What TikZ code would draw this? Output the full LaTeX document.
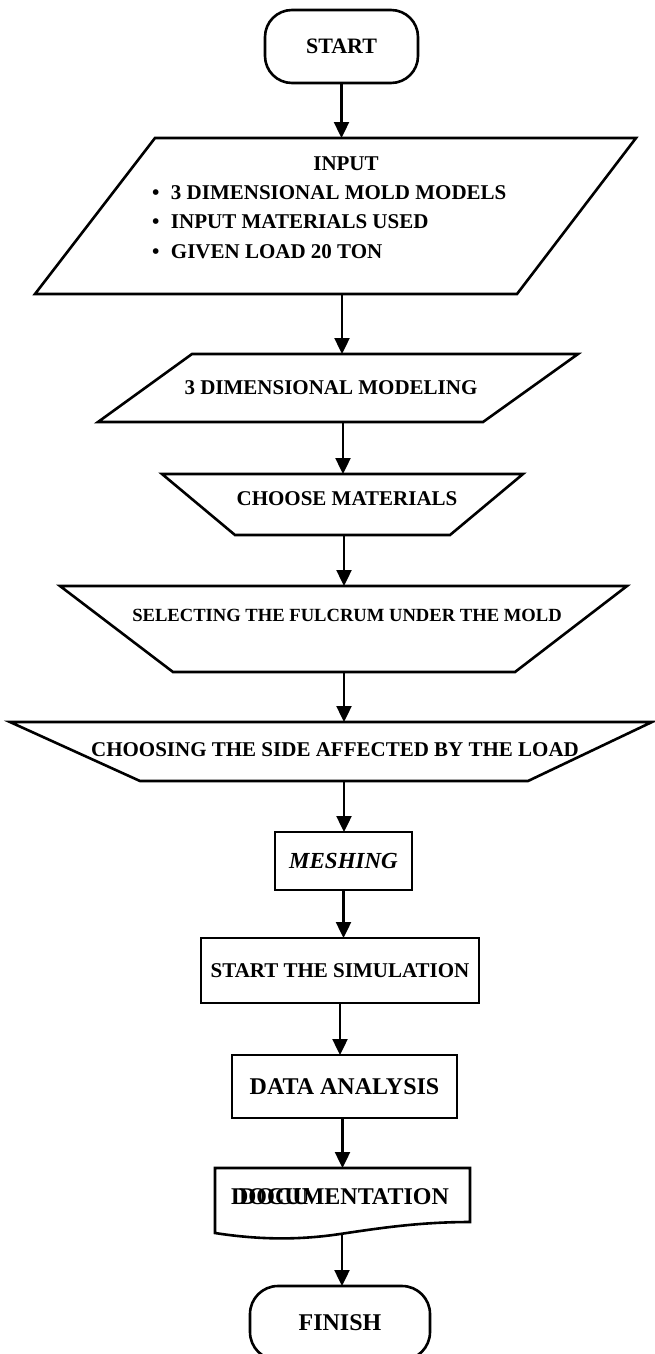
\documentclass[tikz,border=0pt]{standalone}
\usepackage{fontspec}
\setmainfont{Liberation Serif}
\usetikzlibrary{arrows.meta,calc}
\begin{document}
\begin{tikzpicture}[x=1pt,y=-1pt,
  shp/.style={line width=2.6pt, line join=miter},
  arr/.style={line width=2.4pt,-{Triangle[length=16pt,width=15pt]}},
  frm/.style={inner sep=0pt, outer sep=0pt, minimum width=10pt},
  lbl/.style={inner sep=0pt, outer sep=0pt, font=\fontsize{#1}{#1}\selectfont\bfseries},
  lbl/.default=21,
  boxnode/.style={draw, line width=2.6pt, inner sep=0pt, outer sep=0pt},
]
\useasboundingbox (0,0) rectangle (654,1354);

% START
\node[boxnode, lbl=22, rounded corners=27pt, minimum width=153pt, minimum height=73pt] (start) at (341.5,46.5) {START};

% INPUT
\node[frm, minimum height=156pt] (input) at (342,216) {};
\draw[shp] (155,138) -- (636,138) -- (517,294) -- (35,294) -- cycle;
\node[lbl] (tin0) at (346,164) {INPUT};
\node[lbl, anchor=west] (tin1) at (152,193) {\makebox[19pt][l]{\textbullet}3 DIMENSIONAL MOLD MODELS};
\node[lbl, anchor=west] (tin2) at (152,222) {\makebox[19pt][l]{\textbullet}INPUT MATERIALS USED};
\node[lbl, anchor=west] (tin3) at (152,252) {\makebox[19pt][l]{\textbullet}GIVEN LOAD 20 TON};

% 3D modeling
\node[frm, minimum height=68pt] (dm) at (343,388) {};
\draw[shp] (192,354) -- (578,354) -- (483,422) -- (98,422) -- cycle;
\node[lbl] (tdm) at (331,388) {3 DIMENSIONAL MODELING};

% choose materials
\node[frm, minimum height=61pt] (cm) at (344,504.5) {};
\draw[shp] (162,474) -- (523,474) -- (450,535) -- (235,535) -- cycle;
\node[lbl] (tcm) at (347,499) {CHOOSE MATERIALS};

% selecting fulcrum
\node[frm, minimum height=86pt] (sf) at (344,629) {};
\draw[shp] (60,586) -- (627,586) -- (515,672) -- (173,672) -- cycle;
\node[lbl=18.6] (tsf) at (347,615) {SELECTING THE FULCRUM UNDER THE MOLD};

% choosing side
\node[frm, minimum height=59pt] (cs) at (344,751.5) {};
\draw[shp] (10,722) -- (652,722) -- (528,781) -- (140,781) -- cycle;
\node[lbl] (tcs) at (335,750) {CHOOSING THE SIDE AFFECTED BY THE LOAD};

% meshing
\node[boxnode, minimum width=137pt, minimum height=58pt, font=\fontsize{23}{23}\selectfont\bfseries\itshape] (mesh) at (343.5,861) {MESHING};

% simulation
\node[boxnode, lbl=21, minimum width=278pt, minimum height=65pt] (sim) at (340,970.5) {START THE SIMULATION};

% data analysis
\node[boxnode, lbl=24, minimum width=225pt, minimum height=63pt] (data) at (344.5,1086.5) {\raisebox{-3pt}{DATA ANALYSIS}};

% documentation
\node[frm, minimum height=64pt] (doc) at (342,1200) {};
\draw[shp] (215,1233) -- (215,1168) -- (470,1168) -- (470,1222)
  .. controls (420,1222) and (380,1228) .. (340,1234)
  .. controls (300,1240) and (260,1240) .. (215,1233) -- cycle;
\node[lbl=24] (tdoc) at (340,1197) {DOCUMENTATION};
\node[lbl=24, anchor=west] (tdoc2) at (239,1197) {DOCU};

% finish
\node[boxnode, lbl=24, rounded corners=28pt, minimum width=180pt, minimum height=74pt] (finish) at (340,1323) {FINISH};

% connectors
\draw[arr] (start.south) -- (start.south |- input.north);
\draw[arr] (input.south) -- (input.south |- dm.north);
\draw[arr] (dm.south) -- (dm.south |- cm.north);
\draw[arr] (cm.south) -- (cm.south |- sf.north);
\draw[arr] (sf.south) -- (sf.south |- cs.north);
\draw[arr] (cs.south) -- (cs.south |- mesh.north);
\draw[arr] (mesh.south) -- (mesh.south |- sim.north);
\draw[arr] (sim.south) -- (sim.south |- data.north);
\draw[arr] ([xshift=-2pt]data.south) -- ([xshift=-2pt]data.south |- doc.north);
\draw[arr] ([yshift=-1pt]doc.south) -- (doc.south |- finish.north);
\end{tikzpicture}
\end{document}
